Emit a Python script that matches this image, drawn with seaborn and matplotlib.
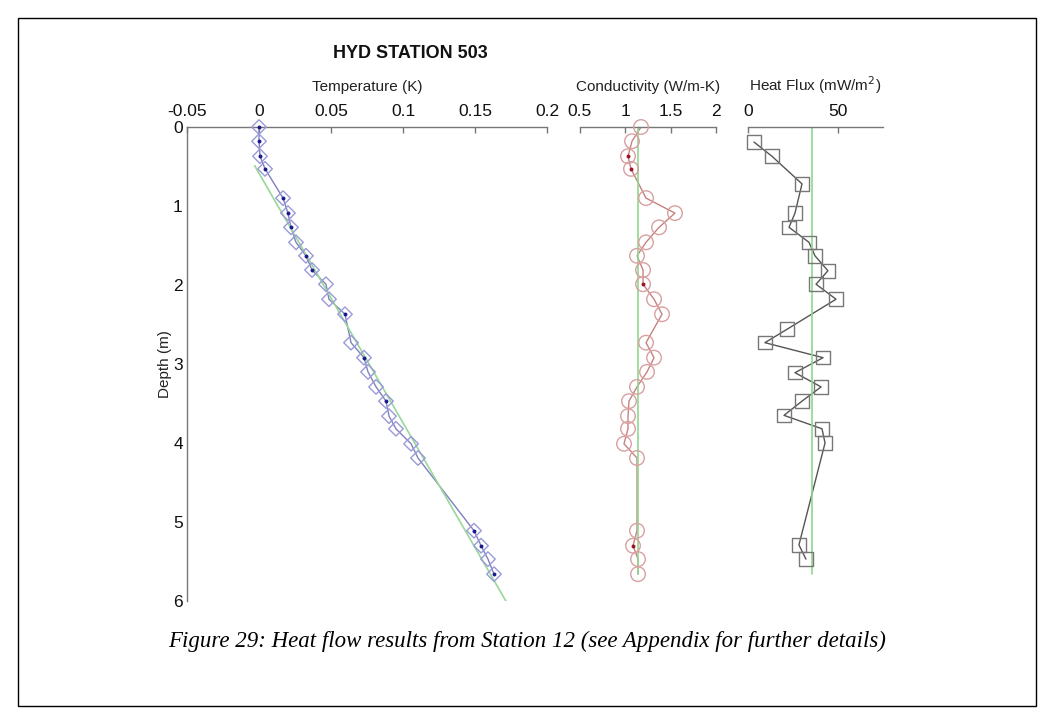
import matplotlib
matplotlib.use("Agg")
import matplotlib.pyplot as plt
import seaborn as sns
import numpy as np
import pandas as pd
from matplotlib.patches import Rectangle

# ---------------- data ----------------
depth = [0.00, 0.18, 0.37, 0.53, 0.90, 1.09, 1.27, 1.46, 1.63, 1.81, 1.99, 2.18, 2.37,
         2.73, 2.92, 3.10, 3.29, 3.47, 3.66, 3.82, 4.01, 4.19, 5.11, 5.30, 5.47, 5.66]
temperature = [0.0000, 0.0000, 0.0007, 0.0042, 0.0167, 0.0201, 0.0222, 0.0257, 0.0326,
               0.0368, 0.0465, 0.0486, 0.0597, 0.0639, 0.0729, 0.0757, 0.0813, 0.0882,
               0.0903, 0.0951, 0.1056, 0.1104, 0.1493, 0.1542, 0.1590, 0.1632]
temp_marked = [1, 1, 1, 1, 1, 1, 1, 0, 1, 1, 0, 0, 1, 0, 1, 0, 0, 1, 0, 0, 0, 0, 1, 1, 0, 1]
conductivity = [1.176, 1.077, 1.033, 1.066, 1.231, 1.549, 1.374, 1.231, 1.132, 1.198,
                1.198, 1.319, 1.407, 1.231, 1.319, 1.242, 1.132, 1.044, 1.033, 1.033,
                0.989, 1.132, 1.132, 1.088, 1.143, 1.143]
cond_marked = [0, 0, 1, 1, 0, 0, 0, 0, 0, 0, 1, 0, 0, 0, 0, 0, 0, 0, 0, 0, 0, 0, 0, 1, 0, 0]
flux_depth = [0.19, 0.37, 0.72, 1.09, 1.27, 1.46, 1.63, 1.82, 1.99, 2.18, 2.56, 2.73,
              2.92, 3.11, 3.29, 3.47, 3.65, 3.82, 4.00, 5.29, 5.47]
heat_flux = [3.3, 13.3, 30.0, 26.1, 22.8, 33.9, 37.2, 44.4, 37.8, 48.9, 21.7, 9.4,
             41.7, 26.1, 40.6, 30.0, 20.0, 41.1, 42.8, 28.3, 32.2]
fit_depth = [0.49, 6.05]
fit_temperature = [-0.003, 0.173]
mean_conductivity = 1.143
mean_flux = 35.6
mean_depth_range = [0.0, 5.66]

temp_ticks = [-0.05, 0, 0.05, 0.1, 0.15, 0.2]
temp_ticklabels = ["-0.05", "0", "0.05", "0.1", "0.15", "0.2"]
cond_ticks = [0.5, 1, 1.5, 2]
cond_ticklabels = ["0.5", "1", "1.5", "2"]
flux_ticks = [0, 50]
flux_ticklabels = ["0", "50"]
depth_ticks = [0, 1, 2, 3, 4, 5, 6]

df = pd.DataFrame({"depth": depth, "T": temperature, "k": conductivity,
                   "tm": temp_marked, "km": cond_marked})
dq = pd.DataFrame({"depth": flux_depth, "q": heat_flux})

# ---------------- style ----------------
sns.set_theme(style="white")
plt.rcParams["font.family"] = ["Liberation Sans", "DejaVu Sans"]
W, H = 1054, 723
fig = plt.figure(figsize=(W / 100, H / 100), dpi=100)
fig.patch.set_facecolor("white")

top_px, bot_px = 127, 601
def ax_rect(x0, x1):
    return [x0 / W, (H - bot_px) / H, (x1 - x0) / W, (bot_px - top_px) / H]

axT = fig.add_axes(ax_rect(187, 547))
axK = fig.add_axes(ax_rect(579.5, 716))
axQ = fig.add_axes(ax_rect(748, 883))

axis_col = "#777777"
for ax in (axT, axK, axQ):
    ax.set_facecolor("none")
    ax.set_ylim(6, 0)
    ax.xaxis.tick_top()
    ax.xaxis.set_label_position("top")
    for s in ("right", "bottom"):
        ax.spines[s].set_visible(False)
    ax.spines["top"].set_color(axis_col)
    ax.spines["left"].set_color(axis_col)
    ax.spines["top"].set_linewidth(1.0)
    ax.spines["left"].set_linewidth(1.0)
    ax.tick_params(axis="both", direction="in", length=4, width=1, color=axis_col,
                   labelsize=12.5, labelcolor="#111111", pad=6)

# Temperature panel
sns.lineplot(data=df, x="T", y="depth", sort=False, estimator=None, ax=axT,
             color="#8080c0", linewidth=1.0)
sns.lineplot(x=fit_temperature, y=fit_depth, sort=False, estimator=None, ax=axT,
             color="#98d898", linewidth=1.2)
sns.scatterplot(data=df, x="T", y="depth", ax=axT, marker="D", s=55,
                facecolor="none", edgecolor="#9a9ad8", linewidth=1.0, zorder=3,
                clip_on=False)
sns.scatterplot(data=df[df.tm == 1], x="T", y="depth", ax=axT, marker="o", s=8,
                color="#1a1a90", linewidth=0, zorder=4, clip_on=False)
axT.set_xlim(-0.05, 0.2)
axT.set_xticks(temp_ticks)
axT.set_xticklabels(temp_ticklabels)
axT.set_yticks(depth_ticks)
axT.set_xlabel("Temperature (K)", fontsize=11, color="#222222", labelpad=9)
axT.set_ylabel("Depth (m)", fontsize=11, color="#222222", labelpad=1)
axT.tick_params(axis="y", pad=3)

# Conductivity panel
sns.lineplot(data=df, x="k", y="depth", sort=False, estimator=None, ax=axK,
             color="#c88080", linewidth=1.0)
sns.lineplot(x=[mean_conductivity, mean_conductivity], y=mean_depth_range, sort=False,
             estimator=None, ax=axK, color="#90d890", linewidth=1.2)
sns.scatterplot(data=df, x="k", y="depth", ax=axK, marker="o", s=110,
                facecolor="none", edgecolor="#d8a0a0", linewidth=1.0, zorder=3,
                clip_on=False)
sns.scatterplot(data=df[df.km == 1], x="k", y="depth", ax=axK, marker="o", s=8,
                color="#a01020", linewidth=0, zorder=4, clip_on=False)
axK.set_xlim(0.5, 2)
axK.set_xticks(cond_ticks)
axK.set_xticklabels(cond_ticklabels)
axK.spines["left"].set_visible(False)
axK.set_yticks([])
axK.set_ylabel("")
axK.set_xlabel("Conductivity (W/m-K)", fontsize=11, color="#222222", labelpad=9)

# Heat flux panel
sns.lineplot(data=dq, x="q", y="depth", sort=False, estimator=None, ax=axQ,
             color="#555555", linewidth=1.0)
sns.lineplot(x=[mean_flux, mean_flux], y=mean_depth_range, sort=False,
             estimator=None, ax=axQ, color="#90d890", linewidth=1.2)
sns.scatterplot(data=dq, x="q", y="depth", ax=axQ, marker="s", s=95,
                facecolor="none", edgecolor="#777777", linewidth=1.0, zorder=3,
                clip_on=False)
axQ.set_xlim(0, 75)
axQ.set_xticks(flux_ticks)
axQ.set_xticklabels(flux_ticklabels)
axQ.spines["left"].set_visible(False)
axQ.set_yticks([])
axQ.set_ylabel("")
axQ.set_xlabel("Heat Flux (mW/m$^2$)", fontsize=11, color="#222222", labelpad=9)

for ax in (axT, axK, axQ):
    if ax.get_legend() is not None:
        ax.get_legend().remove()

# Title
fig.text(410 / W, 1 - 54 / H, "HYD STATION 503", ha="center", va="center",
         fontsize=13, fontweight="bold", color="#111111")

# Caption
fig.text(0.5, 1 - 641 / H,
         "Figure 29: Heat flow results from Station 12 (see Appendix for further details)",
         ha="center", va="center", fontsize=16.5, style="italic",
         family=["Liberation Serif", "DejaVu Serif"], color="#000000")

# Page frame
fig.add_artist(Rectangle((18 / W, 1 - 706 / H), (1036 - 18) / W, (706 - 18) / H,
                         transform=fig.transFigure, fill=False, edgecolor="#000000",
                         linewidth=1.0))

fig.savefig("out.png", dpi=100, facecolor="white")
